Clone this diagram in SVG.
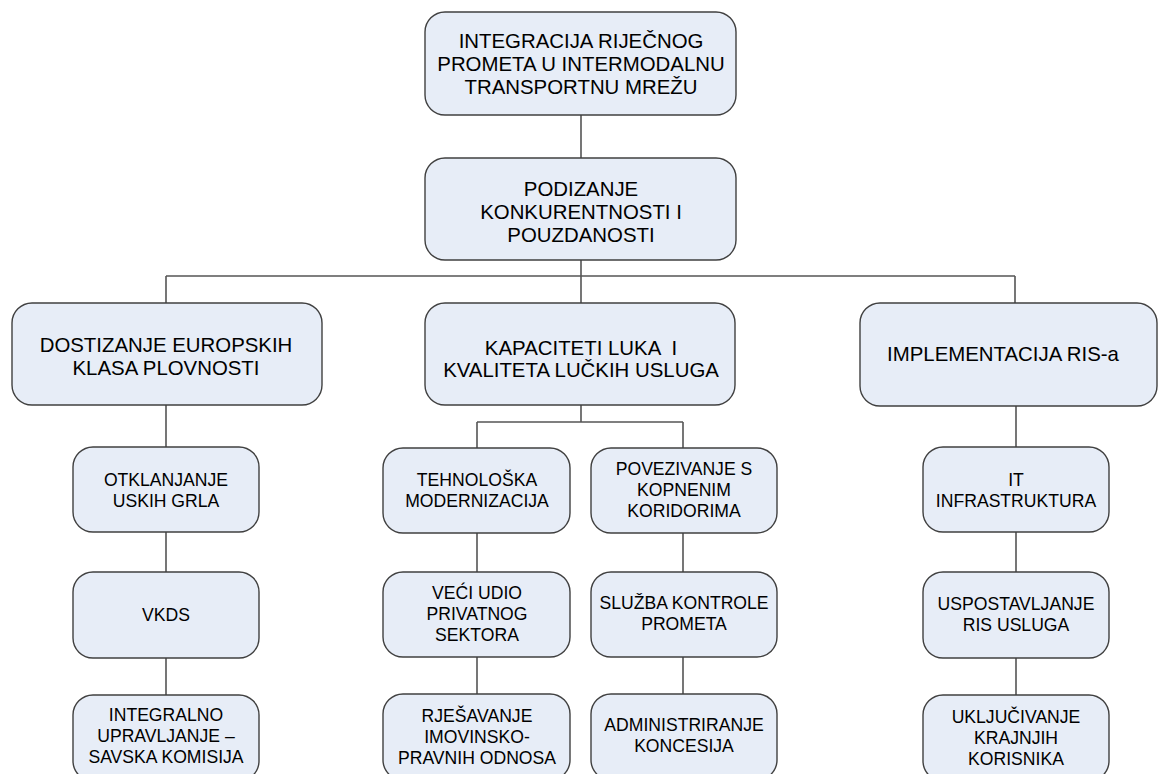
<svg xmlns="http://www.w3.org/2000/svg" width="1159" height="774" viewBox="0 0 1159 774">
<style>
.n{fill:#e7edf7;stroke:#404040;stroke-width:1.4}
.c{fill:none;stroke:#555;stroke-width:1.6}
.t1{font-family:"Liberation Sans",Arial,sans-serif;font-size:20.4px;fill:#000;text-anchor:middle}
.t2{font-family:"Liberation Sans",Arial,sans-serif;font-size:17.6px;fill:#000;text-anchor:middle}
</style>
<rect width="1159" height="774" fill="#fff"/>
<g id="connectors">
<path class="c" d="M581 115V158M581 260V303M166 276H1015M166 276V303M1015 276V303"/>
<path class="c" d="M166 405V447M166 532V572M166 658V695"/>
<path class="c" d="M581 405V422M477 422H683M477 422V448M683 422V448"/>
<path class="c" d="M477 533V572M477 657V694M683 533V572M683 657V694"/>
<path class="c" d="M1016 406V447M1016 532V572M1016 658V695"/>
</g>
<g id="n-top"><rect class="n" x="425" y="12" width="311" height="103" rx="20"/>
<text class="t1" x="581" y="48">INTEGRACIJA RIJEČNOG</text><text class="t1" x="581" y="71">PROMETA U INTERMODALNU</text><text class="t1" x="581" y="94">TRANSPORTNU MREŽU</text></g>
<g id="n-podizanje"><rect class="n" x="425" y="158" width="311" height="102" rx="20"/>
<text class="t1" x="581" y="196">PODIZANJE</text><text class="t1" x="581" y="219">KONKURENTNOSTI I</text><text class="t1" x="581" y="242">POUZDANOSTI</text></g>
<g id="n-dostizanje"><rect class="n" x="12" y="303" width="310" height="102" rx="20"/>
<text class="t1" x="166" y="352">DOSTIZANJE EUROPSKIH</text><text class="t1" x="166" y="375">KLASA PLOVNOSTI</text></g>
<g id="n-kapaciteti"><rect class="n" x="425" y="303" width="310" height="102" rx="20"/>
<text class="t1" x="581" y="355" xml:space="preserve">KAPACITETI LUKA  I</text><text class="t1" x="581" y="377">KVALITETA LUČKIH USLUGA</text></g>
<g id="n-ris"><rect class="n" x="860" y="303" width="297" height="103" rx="20"/>
<text class="t1" x="1003" y="361">IMPLEMENTACIJA RIS-a</text></g>
<g id="n-otklanjanje"><rect class="n" x="73" y="447" width="186" height="85" rx="20"/>
<text class="t2" x="166" y="486">OTKLANJANJE</text><text class="t2" x="166" y="507">USKIH GRLA</text></g>
<g id="n-vkds"><rect class="n" x="73" y="572" width="186" height="86" rx="20"/>
<text class="t2" x="166" y="621">VKDS</text></g>
<g id="n-integralno"><rect class="n" x="73" y="695" width="186" height="86" rx="20"/>
<text class="t2" x="166" y="721">INTEGRALNO</text><text class="t2" x="166" y="742">UPRAVLJANJE –</text><text class="t2" x="166" y="763">SAVSKA KOMISIJA</text></g>
<g id="n-tehnoloska"><rect class="n" x="383" y="448" width="187" height="85" rx="20"/>
<text class="t2" x="477" y="486">TEHNOLOŠKA</text><text class="t2" x="477" y="507">MODERNIZACIJA</text></g>
<g id="n-veci"><rect class="n" x="383" y="572" width="187" height="85" rx="20"/>
<text class="t2" x="477" y="599">VEĆI UDIO</text><text class="t2" x="477" y="620">PRIVATNOG</text><text class="t2" x="477" y="641">SEKTORA</text></g>
<g id="n-rjesavanje"><rect class="n" x="383" y="694" width="187" height="86" rx="20"/>
<text class="t2" x="477" y="722">RJEŠAVANJE</text><text class="t2" x="477" y="743">IMOVINSKO-</text><text class="t2" x="477" y="764">PRAVNIH ODNOSA</text></g>
<g id="n-povezivanje"><rect class="n" x="591" y="448" width="186" height="85" rx="20"/>
<text class="t2" x="684" y="475">POVEZIVANJE S</text><text class="t2" x="684" y="496">KOPNENIM</text><text class="t2" x="684" y="517">KORIDORIMA</text></g>
<g id="n-sluzba"><rect class="n" x="591" y="572" width="186" height="85" rx="20"/>
<text class="t2" x="684" y="609">SLUŽBA KONTROLE</text><text class="t2" x="684" y="630">PROMETA</text></g>
<g id="n-administriranje"><rect class="n" x="591" y="694" width="186" height="86" rx="20"/>
<text class="t2" x="684" y="731">ADMINISTRIRANJE</text><text class="t2" x="684" y="752">KONCESIJA</text></g>
<g id="n-it"><rect class="n" x="923" y="447" width="186" height="85" rx="20"/>
<text class="t2" x="1016" y="486">IT</text><text class="t2" x="1016" y="507">INFRASTRUKTURA</text></g>
<g id="n-uspostavljanje"><rect class="n" x="923" y="572" width="186" height="86" rx="20"/>
<text class="t2" x="1016" y="610">USPOSTAVLJANJE</text><text class="t2" x="1016" y="631">RIS USLUGA</text></g>
<g id="n-ukljucivanje"><rect class="n" x="923" y="695" width="186" height="86" rx="20"/>
<text class="t2" x="1016" y="723">UKLJUČIVANJE</text><text class="t2" x="1016" y="744">KRAJNJIH</text><text class="t2" x="1016" y="765">KORISNIKA</text></g>
</svg>
